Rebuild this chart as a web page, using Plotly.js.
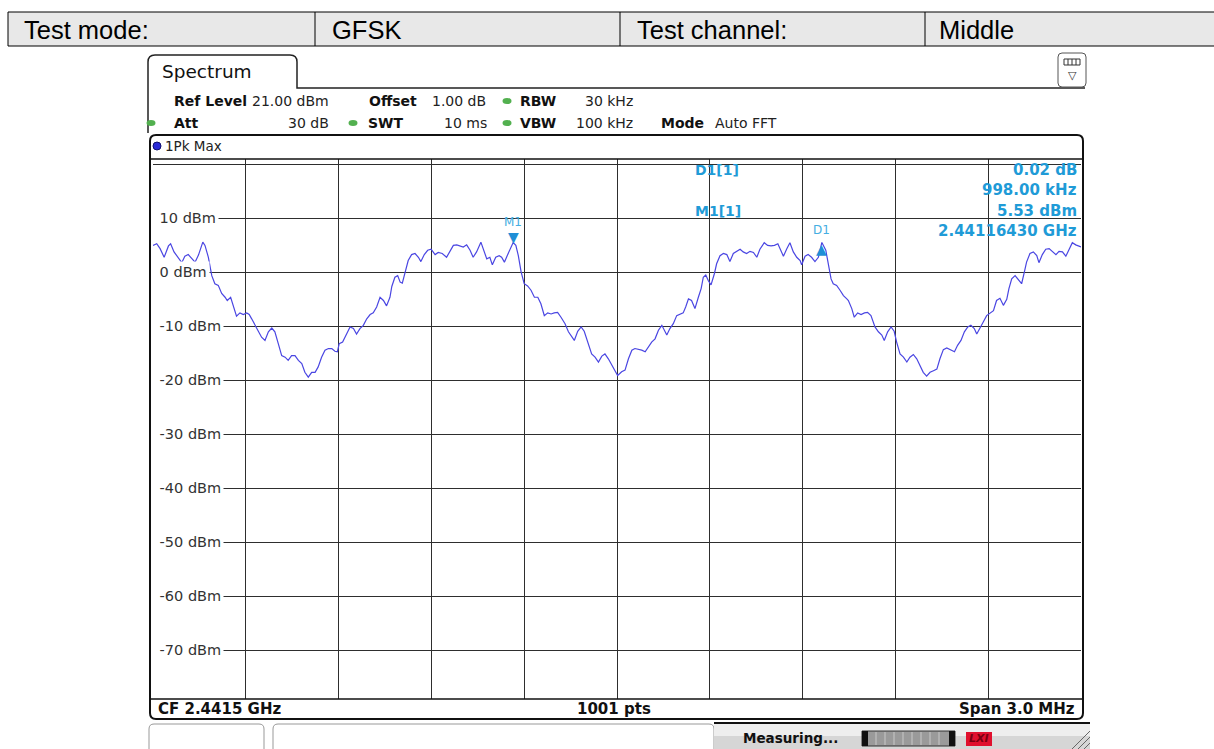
<!DOCTYPE html>
<html><head><meta charset="utf-8">
<script src="https://cdn.plot.ly/plotly-3.0.1.min.js"></script>
<style>html,body{margin:0;padding:0;background:#fff;}#chart{width:1214px;height:749px;}</style>
</head><body><div id="chart"></div>
<script>
// ---- data ----
const freqMHz = [
2440.000,2440.012,2440.023,2440.036,2440.050,2440.057,2440.068,2440.082,2440.093,2440.103,
2440.114,2440.125,2440.136,2440.147,2440.161,2440.168,2440.179,2440.190,2440.200,2440.211,
2440.222,2440.233,2440.240,2440.251,2440.260,2440.270,2440.281,2440.292,2440.303,2440.311,
2440.319,2440.330,2440.340,2440.351,2440.362,2440.373,2440.384,2440.394,2440.405,2440.416,
2440.427,2440.437,2440.448,2440.459,2440.470,2440.481,2440.491,2440.502,2440.513,2440.524,
2440.534,2440.545,2440.556,2440.567,2440.578,2440.588,2440.596,2440.602,2440.613,2440.626,
2440.637,2440.648,2440.658,2440.669,2440.680,2440.691,2440.702,2440.712,2440.723,2440.734,
2440.745,2440.755,2440.766,2440.772,2440.782,2440.791,2440.799,2440.806,2440.815,2440.825,
2440.836,2440.847,2440.858,2440.866,2440.877,2440.888,2440.899,2440.912,2440.922,2440.935,
2440.949,2440.960,2440.971,2440.982,2440.992,2441.003,2441.014,2441.025,2441.035,2441.046,
2441.060,2441.068,2441.079,2441.089,2441.097,2441.108,2441.119,2441.127,2441.136,2441.145,
2441.1643,2441.173,2441.181,2441.190,2441.200,2441.211,2441.222,2441.233,2441.244,2441.254,
2441.265,2441.276,2441.287,2441.297,2441.308,2441.319,2441.332,2441.343,2441.351,2441.362,
2441.373,2441.384,2441.394,2441.405,2441.418,2441.429,2441.440,2441.451,2441.461,2441.472,
2441.483,2441.494,2441.502,2441.515,2441.526,2441.537,2441.548,2441.558,2441.569,2441.580,
2441.591,2441.601,2441.612,2441.623,2441.634,2441.645,2441.655,2441.661,2441.671,2441.682,
2441.693,2441.704,2441.714,2441.722,2441.731,2441.741,2441.752,2441.763,2441.772,2441.779,
2441.787,2441.795,2441.804,2441.815,2441.822,2441.833,2441.844,2441.855,2441.865,2441.876,
2441.887,2441.898,2441.908,2441.919,2441.930,2441.941,2441.952,2441.962,2441.976,2441.987,
2441.998,2442.009,2442.020,2442.027,2442.038,2442.049,2442.059,2442.070,2442.081,2442.092,
2442.097,2442.108,2442.118,2442.129,2442.140,2442.151,2442.1623,2442.175,2442.183,2442.192,
2442.199,2442.210,2442.221,2442.232,2442.243,2442.248,2442.259,2442.267,2442.278,2442.289,
2442.300,2442.310,2442.321,2442.334,2442.345,2442.356,2442.364,2442.375,2442.386,2442.396,
2442.404,2442.415,2442.426,2442.437,2442.447,2442.458,2442.469,2442.480,2442.490,2442.501,
2442.512,2442.523,2442.534,2442.544,2442.555,2442.566,2442.577,2442.591,2442.601,2442.612,
2442.623,2442.634,2442.644,2442.655,2442.663,2442.674,2442.684,2442.695,2442.706,2442.717,
2442.727,2442.738,2442.749,2442.760,2442.767,2442.776,2442.787,2442.798,2442.808,2442.817,
2442.824,2442.835,2442.846,2442.857,2442.864,2442.875,2442.886,2442.897,2442.908,2442.919,
2442.929,2442.940,2442.951,2442.962,2442.972,2442.983,2442.994,2443.000];
const levelDbm = [
5.0,5.3,4.4,2.8,4.9,5.3,3.8,2.8,1.8,3.0,
3.3,2.6,1.9,3.2,5.6,5.0,2.8,-0.6,-2.1,-2.4,
-3.9,-4.6,-5.2,-4.6,-6.1,-8.1,-7.5,-7.8,-7.5,-7.8,
-8.6,-9.8,-11.0,-12.0,-12.6,-11.0,-10.3,-11.0,-13.2,-15.4,
-15.7,-16.3,-15.4,-15.4,-16.3,-16.9,-18.5,-19.4,-18.5,-18.5,
-17.5,-15.7,-14.4,-14.1,-14.1,-14.6,-14.7,-13.2,-12.9,-11.4,
-10.1,-10.4,-11.4,-10.4,-9.8,-8.6,-7.8,-7.5,-6.4,-4.6,
-5.2,-6.2,-4.6,-2.6,-0.9,-0.6,-1.8,-2.0,0.1,2.2,
3.3,3.5,2.8,2.0,3.3,4.1,4.3,3.3,3.7,3.5,
2.8,3.8,5.0,5.1,4.9,4.7,5.1,4.1,2.8,3.8,
5.6,4.1,2.5,2.8,1.4,2.8,3.1,2.8,1.9,3.1,
5.53,5.0,3.1,0.1,-2.1,-2.5,-3.3,-4.6,-4.6,-5.8,
-8.0,-7.5,-7.7,-7.5,-7.4,-8.3,-9.5,-11.0,-11.6,-12.6,
-10.9,-10.1,-10.9,-12.9,-15.1,-15.7,-16.6,-15.5,-15.1,-16.0,
-17.2,-18.5,-19.1,-18.4,-18.1,-16.0,-14.4,-14.1,-14.2,-14.4,
-14.7,-13.8,-12.9,-12.3,-10.7,-9.8,-11.0,-11.6,-10.4,-9.5,
-8.0,-7.7,-7.5,-6.4,-4.9,-5.2,-6.7,-4.6,-3.0,-0.9,
-0.5,-1.5,-2.3,-0.2,1.6,3.1,3.5,3.3,2.0,3.5,
3.9,4.3,3.8,3.5,3.9,3.7,2.8,4.3,5.5,5.0,
4.9,5.0,5.3,4.4,3.0,4.4,5.5,3.8,2.8,2.2,
1.4,3.0,3.3,2.8,2.0,2.8,5.55,4.1,1.9,-1.2,
-2.1,-2.4,-3.3,-4.3,-4.9,-5.2,-6.7,-8.3,-7.5,-7.8,
-7.5,-7.4,-8.0,-10.1,-11.0,-11.6,-12.6,-11.0,-10.1,-10.9,
-12.9,-15.1,-15.7,-16.6,-15.7,-15.2,-16.0,-17.2,-18.5,-19.2,
-18.5,-18.2,-17.9,-16.0,-14.3,-14.0,-14.3,-14.7,-13.5,-12.6,
-11.0,-10.1,-9.8,-10.4,-11.4,-10.1,-9.2,-8.0,-7.5,-7.1,
-5.2,-4.8,-6.1,-5.0,-3.0,-1.2,-0.6,-1.3,-2.1,0.1,
1.9,3.5,3.8,3.1,1.8,3.3,4.3,4.4,3.9,3.3,
3.9,3.8,3.0,4.3,5.5,5.1,4.9,4.7];

const markerNames = ['M1', 'D1'];
const markerFreqMHz = [2441.1643, 2442.1623];
const markerLevelDbm = [5.53, 5.55];
const markerGlyphs = ['\u25BC', '\u25B2'];

const yTickValues = [10, 0, -10, -20, -30, -40, -50, -60, -70];
const yTickLabels = ['10 dBm', '0 dBm', '-10 dBm', '-20 dBm', '-30 dBm', '-40 dBm', '-50 dBm', '-60 dBm', '-70 dBm'];

const tableCells = ['Test mode:', 'GFSK', 'Test channel:', 'Middle'];
const markerTableLabels = ['D1[1]', 'M1[1]'];
const markerTableValues = ['0.02 dB', '998.00 kHz', '5.53 dBm', '2.44116430 GHz'];

const startMHz = 2440.0, stopMHz = 2443.0, divMHz = 0.3;
const refLevel = 21, bottomLevel = -79;

// ---- geometry helpers (pixel -> paper) ----
const PL = 153, PT = 159, PW = 928, PH = 540;
const X = px => (px - PL) / PW;
const Y = py => (PT + PH - py) / PH;
const pt = (x, y) => X(x) + ',' + Y(y);
function rrect(x0, y0, x1, y1, r) {
  return 'M' + pt(x0 + r, y0) + ' L' + pt(x1 - r, y0) + ' Q' + pt(x1, y0) + ' ' + pt(x1, y0 + r) +
    ' L' + pt(x1, y1 - r) + ' Q' + pt(x1, y1) + ' ' + pt(x1 - r, y1) +
    ' L' + pt(x0 + r, y1) + ' Q' + pt(x0, y1) + ' ' + pt(x0, y1 - r) +
    ' L' + pt(x0, y0 + r) + ' Q' + pt(x0, y0) + ' ' + pt(x0 + r, y0) + ' Z';
}
const P = 'paper';
function line(x0, y0, x1, y1, color, w) {
  return {type: 'line', xref: P, yref: P, x0: X(x0), y0: Y(y0), x1: X(x1), y1: Y(y1),
    line: {color: color || '#000', width: w || 1}};
}
function rect(x0, y0, x1, y1, fill, lc, lw, layer) {
  return {type: 'rect', xref: P, yref: P, x0: X(x0), y0: Y(y0), x1: X(x1), y1: Y(y1),
    fillcolor: fill, line: {color: lc || fill, width: lw === undefined ? 0 : lw}, layer: layer || 'above'};
}
function pathS(d, fill, lc, lw, layer) {
  return {type: 'path', xref: P, yref: P, path: d, fillcolor: fill || 'rgba(0,0,0,0)',
    line: {color: lc || '#000', width: lw === undefined ? 1 : lw}, layer: layer || 'above'};
}
function ell(cx, cy, rx, ry, fill, lc) {
  return {type: 'circle', xref: P, yref: P, x0: X(cx - rx), x1: X(cx + rx), y0: Y(cy + ry), y1: Y(cy - ry),
    fillcolor: fill, line: {color: lc || fill, width: lc ? 1 : 0}};
}
const SANS = 'DejaVu Sans, Verdana, sans-serif';
function txt(text, px, py, size, color, anchor, family) {
  return {xref: P, yref: P, x: X(px), y: Y(py), text: text, showarrow: false,
    xanchor: anchor || 'left', yanchor: 'middle',
    font: {family: family || SANS, size: size || 13, color: color || '#111'}};
}

const shapes = [];
const annotations = [];

// header table
shapes.push(rect(8, 12, 1220, 46, '#e8e8e8', '#000', 1));
[315, 620, 925].forEach(x => shapes.push(line(x, 12, x, 46, '#000', 1)));
const cellX = [22, 330, 635, 937];
tableCells.forEach((t, i) => annotations.push(txt(t, cellX[i], 30, 25.5, '#000', 'left', 'Liberation Sans, Arial, sans-serif')));

// Spectrum tab and window top line
shapes.push(pathS('M' + pt(148, 133) + ' L' + pt(148, 62) + ' Q' + pt(148, 55) + ' ' + pt(155, 55) +
  ' L' + pt(290, 55) + ' Q' + pt(297, 55) + ' ' + pt(297, 62) + ' L' + pt(297, 88) + ' L' + pt(1085, 88), null, '#222', 1.5));
annotations.push(txt('Spectrum', 160, 72, 18.5, '#111'));
// icon box at top right
shapes.push(pathS(rrect(1058, 53, 1086, 87, 4), '#fff', '#555', 1));
shapes.push(rect(1064, 59, 1080, 65, '#fff', '#333', 1));
[1068, 1072, 1076].forEach(x => shapes.push(line(x, 59, x, 65, '#333', 1)));
annotations.push(txt('\u25BD', 1072, 75, 11, '#333', 'center'));

// setting lines
const HS = 14;
annotations.push(txt('<b>Ref Level</b>', 172, 101, HS));
annotations.push(txt('21.00 dBm', 250, 101, HS, '#222'));
annotations.push(txt('<b>Offset</b>', 367, 101, HS));
annotations.push(txt('1.00 dB', 430, 101, HS, '#222'));
annotations.push(txt('<b>RBW</b>', 518, 101, HS));
annotations.push(txt('30 kHz', 635, 101, HS, '#222', 'right'));
annotations.push(txt('<b>Att</b>', 172, 123, HS));
annotations.push(txt('30 dB', 331, 123, HS, '#222', 'right'));
annotations.push(txt('<b>SWT</b>', 366, 123, HS));
annotations.push(txt('10 ms', 489, 123, HS, '#222', 'right'));
annotations.push(txt('<b>VBW</b>', 518, 123, HS));
annotations.push(txt('100 kHz', 635, 123, HS, '#222', 'right'));
annotations.push(txt('<b>Mode</b>', 659, 123, HS));
annotations.push(txt('Auto FFT', 713, 123, HS, '#222'));
[[507, 101], [151, 123], [353, 123], [507, 123]].forEach(c => shapes.push(ell(c[0], c[1], 4.5, 3, '#52b04f')));

// diagram frame
shapes.push(pathS(rrect(150, 135, 1083, 719, 6), null, '#111', 2));
shapes.push(line(150, 159, 1083, 159, '#111', 1.5));
shapes.push(line(150, 699, 1083, 699, '#111', 1.5));
shapes.push(ell(157, 146, 4, 4, '#2b2bd8', '#101070'));
annotations.push(txt('1Pk Max', 163, 146, 13.5, '#222'));

// grid mask behind the marker table
shapes.push(rect(690, 159.8, 1081, 240, '#fff', '#fff', 0, 'between'));

// marker table
markerTableLabels.forEach((t, i) => annotations.push(txt('<b>' + t + '</b>', 693, [170, 211][i], 14, '#1f9bd7')));
markerTableValues.forEach((t, i) => annotations.push(txt('<b>' + t + '</b>', 1079, [170, 190, 211, 231][i], 15, '#1f9bd7', 'right')));

// y tick labels inside the plot
yTickValues.forEach((v, i) => annotations.push({xref: P, yref: 'y', x: X(151.5), y: v, text: '\u00A0' + yTickLabels[i],
  showarrow: false, xanchor: 'left', yanchor: 'middle', bgcolor: '#fff', borderpad: 2,
  font: {family: SANS, size: 14.5, color: '#333'}}));

// markers on the trace
markerNames.forEach((n, i) => {
  const down = markerGlyphs[i] === '\u25BC';
  annotations.push({xref: 'x', yref: 'y', x: markerFreqMHz[i], y: markerLevelDbm[i], text: markerGlyphs[i],
    showarrow: false, xanchor: 'center', yanchor: down ? 'bottom' : 'top', yshift: down ? -4 : 3,
    font: {family: SANS, size: 14, color: '#1f8fd6'}});
  annotations.push({xref: 'x', yref: 'y', x: markerFreqMHz[i], y: markerLevelDbm[i], text: n,
    showarrow: false, xanchor: 'center', yanchor: 'bottom', yshift: down ? 12 : 3,
    font: {family: SANS, size: 12, color: '#45aee2'}});
});

// bottom info bar
annotations.push(txt('<b>CF 2.4415 GHz</b>', 156, 709, 15, '#111'));
annotations.push(txt('<b>1001 pts</b>', 614, 709, 15, '#111', 'center'));
annotations.push(txt('<b>Span 3.0 MHz</b>', 1077, 709, 15, '#111', 'right'));

// status bar
shapes.push(pathS(rrect(149, 724, 264, 756, 5), '#fff', '#999', 1));
shapes.push(pathS(rrect(273, 724, 714, 756, 5), '#fff', '#999', 1));
shapes.push(rect(714, 723, 1090, 736, '#eeeeee'));
shapes.push(rect(714, 736, 1090, 749, '#d6d6d6'));
shapes.push(line(714, 723, 1090, 723, '#111', 2));
annotations.push(txt('<b>Measuring...</b>', 741, 738, 13.5, '#111'));
shapes.push(rect(862, 731, 955, 746, '#9a9a9a', '#333', 1));
shapes.push(rect(862, 731, 868, 746, '#111'));
shapes.push(rect(949, 731, 955, 746, '#111'));
[876, 885, 894, 903, 912, 921, 930, 939].forEach(x => shapes.push(line(x, 732, x, 745, '#c8c8c8', 1)));
shapes.push(rect(966, 732, 992, 746, '#e0102e'));
annotations.push(txt('<b><i>LXI</i></b>', 979, 739, 11, '#7a0010', 'center'));
[[1072, 749, 1090, 731], [1078, 749, 1090, 737], [1084, 749, 1090, 743]].forEach(l => shapes.push(line(l[0], l[1], l[2], l[3], '#666', 1)));

const trace = {
  x: freqMHz, y: levelDbm, type: 'scatter', mode: 'lines',
  line: {color: '#4a46e2', width: 1.2}, hoverinfo: 'skip'
};

const layout = {
  width: 1214, height: 749,
  margin: {l: PL, r: 1214 - PL - PW, t: PT, b: 749 - PT - PH, pad: 0},
  paper_bgcolor: '#fff', plot_bgcolor: '#fff',
  showlegend: false,
  xaxis: {range: [startMHz, stopMHz], tick0: startMHz, dtick: divMHz, showgrid: true,
    gridcolor: '#2e2e2e', gridwidth: 1, zeroline: false, showline: false, showticklabels: false, ticks: ''},
  yaxis: {range: [bottomLevel, refLevel], tick0: -70, dtick: 10, showgrid: true,
    gridcolor: '#2e2e2e', gridwidth: 1, zeroline: false, showline: false, showticklabels: false, ticks: ''},
  shapes: shapes,
  annotations: annotations
};

Plotly.newPlot('chart', [trace], layout, {staticPlot: true, displayModeBar: false});
</script>
</body></html>
